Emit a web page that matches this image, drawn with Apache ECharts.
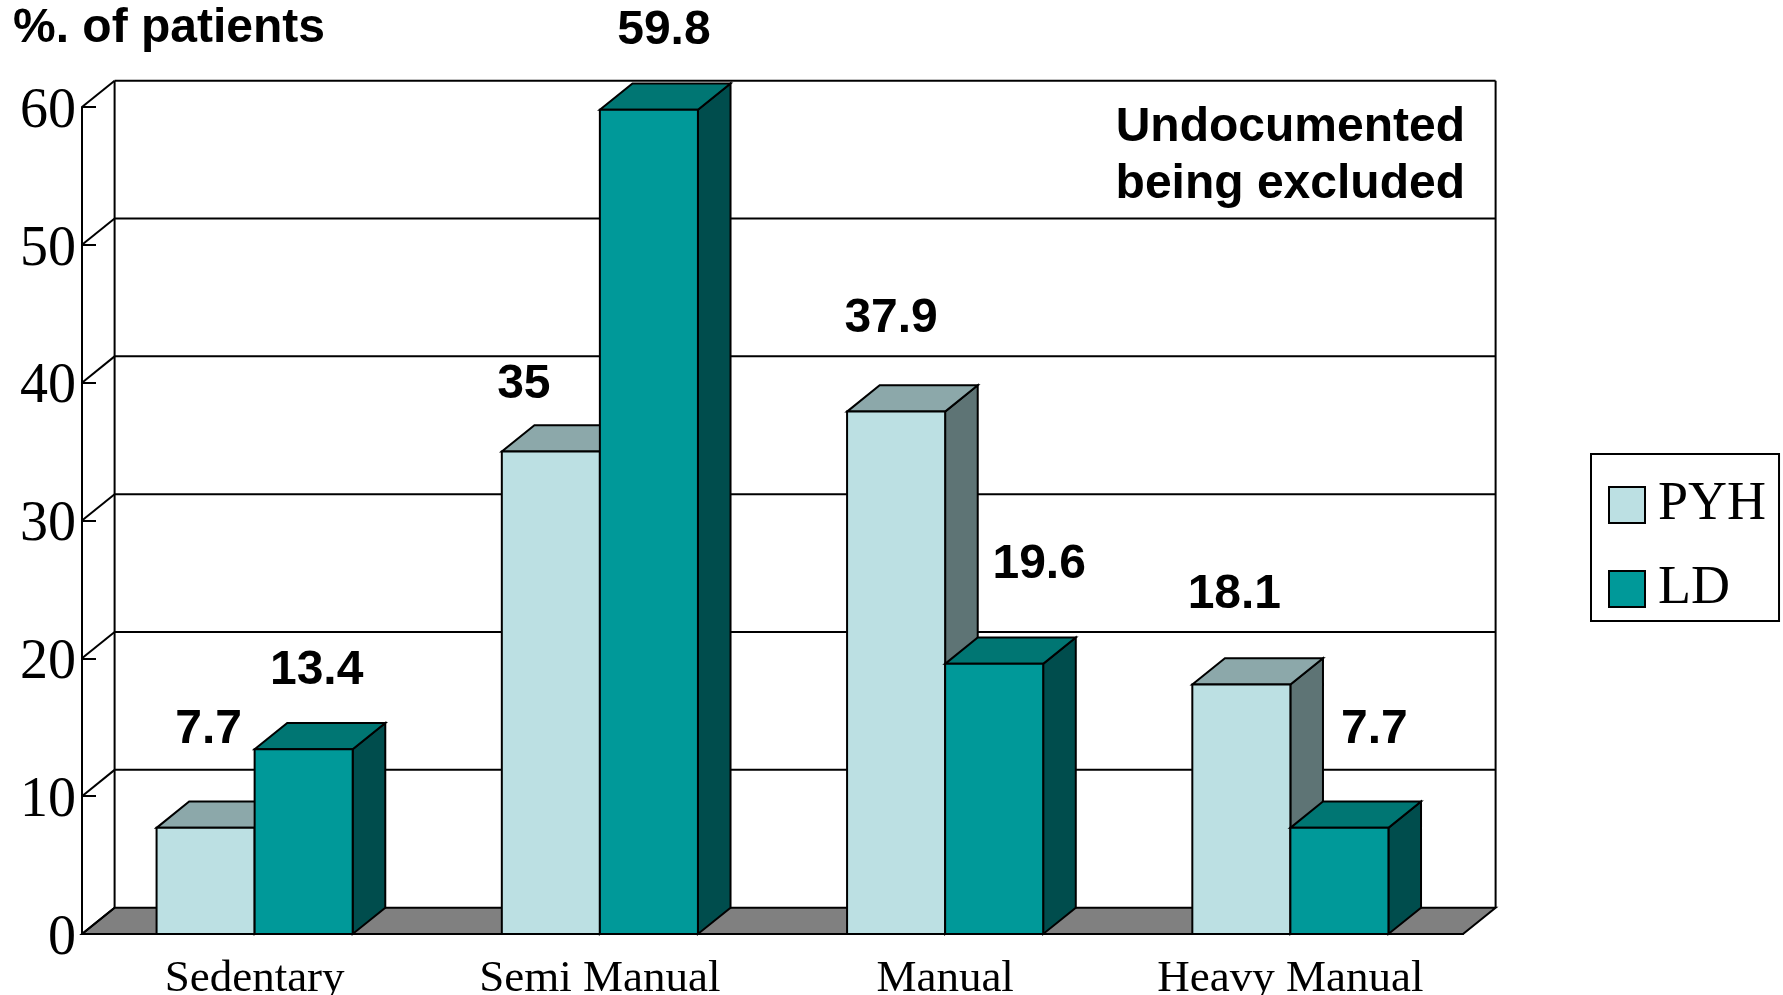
<!DOCTYPE html>
<html>
<head>
<meta charset="utf-8">
<title>Occupation of patients</title>
<script src="https://cdn.jsdelivr.net/npm/echarts@6/dist/echarts.min.js"></script>
<style>
  html, body { margin: 0; padding: 0; background: #fff; }
  #chart { width: 1783px; height: 995px; }
</style>
</head>
<body>
<div id="chart"></div>
<script>
// Occupational categories and share of patients (%) per group
const categories = ['Sedentary', 'Semi Manual', 'Manual', 'Heavy Manual'];
const pyhValues = [7.7, 35, 37.9, 18.1];
const ldValues = [13.4, 59.8, 19.6, 7.7];
const yTickValues = [0, 10, 20, 30, 40, 50, 60];

// Value label placement relative to the top-centre of each bar's front face
const pyhLabelShift = [[3, -98], [-27, -67], [-5, -93], [-7, -90]];
const ldLabelShift = [[13, -79], [15, -79], [45, -99], [35, -98]];

// Oblique depth of the 3D box (screen offset of the back plane)
const DX = 32.6;
const DY = -26.3;
const BAR_RATIO = 0.284;

const PYH_FACES = { front: '#BCE0E3', top: '#8CA8AA', side: '#5E7475' };
const LD_FACES = { front: '#009999', top: '#007673', side: '#004D4D' };
const EDGE = { stroke: '#000', lineWidth: 2 };

const boldSans = 'bold 48px "Liberation Sans", Arial, sans-serif';
const serifFamily = '"Liberation Serif", "Times New Roman", serif';

function line(a, b) {
  return { type: 'line', shape: { x1: a[0], y1: a[1], x2: b[0], y2: b[1] }, style: { stroke: '#000', lineWidth: 2 } };
}

// Floor, back wall, its gridlines and the diagonals joining it to the front axis
function renderFrame(params, api) {
  const cs = params.coordSys;
  const x0 = cs.x, x1 = cs.x + cs.width;
  const yOf = (t) => api.coord([0, t])[1];
  const y0 = yOf(0), yTop = yOf(yTickValues[yTickValues.length - 1]);
  const children = [];
  children.push({
    type: 'polygon',
    shape: { points: [[x0, y0], [x1, y0], [x1 + DX, y0 + DY], [x0 + DX, y0 + DY]] },
    style: Object.assign({ fill: '#808080' }, EDGE)
  });
  yTickValues.forEach((t) => {
    const y = yOf(t);
    if (t > 0) children.push(line([x0 + DX, y + DY], [x1 + DX, y + DY]));
    children.push(line([x0, y], [x0 + DX, y + DY]));
  });
  children.push(line([x0 + DX, y0 + DY], [x0 + DX, yTop + DY]));
  children.push(line([x1 + DX, y0 + DY], [x1 + DX, yTop + DY]));
  return { type: 'group', children: children };
}

// One 3D box per value: side face, top face, front face and the value label
function barRenderer(faces, side, shifts) {
  return function (params, api) {
    const i = api.value(0);
    const v = api.value(1);
    const topPt = api.coord([i, v]);
    const basePt = api.coord([i, 0]);
    const w = api.size([1, 0])[0] * BAR_RATIO;
    const xl = side < 0 ? topPt[0] - w : topPt[0];
    const xr = xl + w;
    const yt = topPt[1];
    const yb = basePt[1];
    const shift = shifts[params.dataIndex];
    return {
      type: 'group',
      children: [
        {
          type: 'polygon',
          shape: { points: [[xr, yt], [xr + DX, yt + DY], [xr + DX, yb + DY], [xr, yb]] },
          style: Object.assign({ fill: faces.side }, EDGE)
        },
        {
          type: 'polygon',
          shape: { points: [[xl, yt], [xr, yt], [xr + DX, yt + DY], [xl + DX, yt + DY]] },
          style: Object.assign({ fill: faces.top }, EDGE)
        },
        {
          type: 'rect',
          shape: { x: xl, y: yt, width: w, height: yb - yt },
          style: Object.assign({ fill: faces.front }, EDGE)
        },
        {
          type: 'text',
          x: xl + w / 2 + shift[0],
          y: yt + shift[1],
          z2: 50,
          style: {
            text: String(v),
            fill: '#000',
            font: boldSans,
            align: 'center',
            verticalAlign: 'middle'
          }
        }
      ]
    };
  };
}

const chart = echarts.init(document.getElementById('chart'), null, { renderer: 'canvas' });

chart.setOption({
  animation: false,
  backgroundColor: '#fff',
  grid: { left: 82, top: 107, width: 1381, height: 827, containLabel: false, outerBoundsMode: 'none' },
  xAxis: {
    type: 'category',
    data: categories,
    boundaryGap: true,
    z: 3,
    axisLine: { lineStyle: { color: '#000', width: 2 } },
    axisTick: { inside: true, length: 14, interval: 0, lineStyle: { color: '#000', width: 2 } },
    axisLabel: {
      color: '#000',
      fontFamily: serifFamily,
      fontSize: 45,
      margin: 23,
      interval: 0
    },
    splitLine: { show: false }
  },
  yAxis: {
    type: 'value',
    min: 0,
    max: 60,
    interval: 10,
    z: 3,
    axisLine: { show: true, lineStyle: { color: '#000', width: 2 } },
    axisTick: { show: true, inside: true, length: 14, lineStyle: { color: '#000', width: 2 } },
    axisLabel: {
      color: '#000',
      fontFamily: serifFamily,
      fontSize: 56,
      margin: 6,
      verticalAlign: 'top',
      lineHeight: 10
    },
    splitLine: { show: false }
  },
  legend: {
    data: ['PYH', 'LD'],
    orient: 'vertical',
    left: 1591,
    top: 454,
    padding: [24, 13, 5, 17],
    backgroundColor: '#fff',
    borderColor: '#000',
    borderWidth: 2,
    borderRadius: 0,
    icon: 'rect',
    itemWidth: 36,
    itemHeight: 36,
    itemGap: 30,
    itemStyle: { borderColor: '#000', borderWidth: 2 },
    selectedMode: false,
    textStyle: {
      color: '#000',
      fontFamily: serifFamily,
      fontSize: 54,
      lineHeight: 36,
      padding: [0, 0, 0, 8]
    }
  },
  graphic: [
    {
      type: 'text',
      x: 13,
      y: 29,
      style: { text: '%. of patients', fill: '#000', font: boldSans, align: 'left', verticalAlign: 'middle' }
    },
    {
      type: 'text',
      x: 1465,
      y: 156,
      style: {
        text: 'Undocumented\nbeing excluded',
        fill: '#000',
        font: boldSans,
        lineHeight: 57,
        align: 'right',
        verticalAlign: 'middle'
      }
    }
  ],
  series: [
    {
      name: 'frame',
      type: 'custom',
      z: 1,
      silent: true,
      renderItem: renderFrame,
      data: [[0, 0]],
      encode: { x: 0, y: 1 }
    },
    {
      name: 'PYH',
      type: 'custom',
      z: 2,
      itemStyle: { color: PYH_FACES.front },
      renderItem: barRenderer(PYH_FACES, -1, pyhLabelShift),
      data: pyhValues.map((v, i) => [i, v]),
      encode: { x: 0, y: 1 }
    },
    {
      name: 'LD',
      type: 'custom',
      z: 2,
      itemStyle: { color: LD_FACES.front },
      renderItem: barRenderer(LD_FACES, 1, ldLabelShift),
      data: ldValues.map((v, i) => [i, v]),
      encode: { x: 0, y: 1 }
    }
  ]
});
</script>
</body>
</html>
